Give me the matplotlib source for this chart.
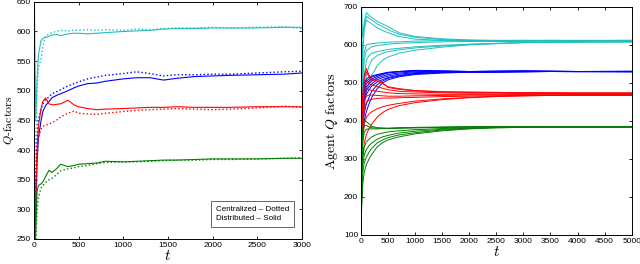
import matplotlib
matplotlib.use("Agg")
import matplotlib.pyplot as plt

plt.rcParams['mathtext.fontset'] = 'cm'
plt.rcParams['font.family'] = 'Liberation Sans'

# ---- left panel: centralized (dotted) vs distributed (solid) ----
t_left = [0, 5, 20, 35, 50, 80, 100, 130, 170, 200, 250, 300, 380, 450, 500, 600, 700,
          800, 1000, 1150, 1300, 1450, 1600, 1800, 2000, 2200, 2500, 2800, 3000]

cyan_solid = [200, 660, 450, 520, 560, 585, 588, 590, 592, 594, 595, 593, 596, 597, 597, 596, 597,
              598, 600, 601, 602, 604, 605, 605, 606, 606, 606, 607, 607]
cyan_dotted = [200, 240, 420, 500, 540, 552, 575, 592, 596, 598, 600, 602, 601, 602, 602, 603, 602,
               603, 602, 604, 603, 605, 606, 606, 607, 606, 607, 608, 605]
blue_solid = [200, 220, 300, 380, 420, 450, 465, 475, 482, 488, 492, 495, 500, 505, 508, 512, 513,
              516, 520, 522, 522, 518, 521, 524, 525, 526, 527, 528, 530]
blue_dotted = [200, 230, 340, 420, 450, 470, 478, 485, 490, 495, 498, 502, 508, 512, 515, 520, 523,
               526, 529, 532, 529, 525, 527, 527, 528, 528, 530, 532, 533]
red_solid = [200, 230, 330, 400, 440, 470, 482, 488, 478, 476, 477, 478, 484, 476, 473, 470, 468,
             469, 470, 471, 472, 472, 473, 472, 472, 472, 473, 473, 473]
red_dotted = [200, 220, 300, 380, 420, 435, 440, 442, 444, 446, 450, 456, 462, 466, 462, 461, 460,
              462, 465, 467, 468, 469, 470, 469, 468, 469, 471, 474, 472]
green_solid = [200, 210, 260, 330, 340, 343, 346, 355, 366, 362, 368, 376, 372, 374, 376, 377, 378,
               381, 380, 381, 382, 383, 383, 384, 385, 385, 385, 386, 386]
green_dotted = [200, 205, 240, 300, 320, 336, 340, 345, 350, 352, 358, 365, 368, 370, 372, 374, 377,
                379, 380, 380, 381, 382, 383, 383, 384, 384, 385, 386, 387]

# ---- right panel: agent Q factors ----
t_right = [0, 10, 30, 60, 100, 150, 200, 300, 400, 500, 700, 1000, 1500, 2000, 2500, 3000, 3500, 4000, 5000]

cyan_agents = [
    [100, 720, 620, 660, 685, 678, 672, 662, 655, 648, 632, 622, 616, 613, 612, 612, 611, 611, 612],
    [100, 300, 600, 650, 675, 670, 665, 655, 648, 640, 628, 620, 614, 612, 611, 612, 612, 612, 612],
    [100, 250, 560, 640, 665, 660, 655, 645, 638, 632, 622, 615, 612, 611, 611, 611, 612, 611, 611],
    [100, 230, 520, 580, 600, 602, 603, 605, 606, 607, 608, 610, 611, 611, 610, 611, 611, 611, 610],
    [100, 220, 500, 560, 585, 590, 595, 598, 600, 602, 604, 606, 608, 609, 609, 609, 610, 610, 610],
    [100, 200, 450, 520, 560, 572, 578, 582, 585, 588, 591, 595, 599, 602, 604, 606, 607, 608, 608],
    [100, 190, 420, 480, 520, 545, 560, 572, 578, 582, 587, 592, 597, 601, 604, 606, 607, 607, 608],
    [100, 180, 380, 440, 480, 500, 520, 545, 560, 568, 578, 586, 594, 600, 603, 606, 607, 608, 608],
]
blue_agents = [
    [100, 250, 460, 500, 510, 515, 518, 522, 525, 528, 530, 533, 532, 530, 531, 532, 531, 530, 530],
    [100, 240, 440, 490, 505, 510, 515, 520, 524, 527, 530, 532, 531, 530, 531, 531, 530, 530, 531],
    [100, 230, 420, 480, 498, 505, 510, 517, 522, 526, 529, 531, 530, 529, 530, 531, 531, 530, 530],
    [100, 220, 410, 470, 490, 498, 505, 513, 518, 522, 526, 529, 530, 529, 530, 530, 530, 530, 529],
    [100, 210, 400, 460, 480, 490, 498, 508, 514, 518, 523, 527, 529, 529, 529, 530, 530, 530, 530],
    [100, 200, 390, 450, 470, 482, 492, 502, 509, 514, 520, 525, 528, 528, 529, 530, 530, 529, 530],
    [100, 190, 370, 420, 445, 462, 478, 495, 505, 512, 518, 524, 527, 528, 529, 529, 530, 530, 530],
    [100, 180, 350, 400, 425, 445, 462, 485, 500, 508, 516, 522, 526, 528, 528, 529, 530, 530, 529],
]
red_agents = [
    [100, 260, 460, 520, 538, 520, 510, 505, 498, 490, 485, 480, 477, 476, 475, 474, 474, 473, 473],
    [100, 250, 450, 510, 530, 515, 505, 510, 500, 488, 483, 479, 476, 475, 475, 474, 474, 474, 474],
    [100, 240, 440, 490, 505, 498, 495, 490, 486, 482, 478, 476, 474, 473, 473, 472, 472, 472, 472],
    [100, 230, 420, 470, 485, 482, 480, 478, 476, 474, 472, 471, 470, 470, 470, 470, 471, 470, 470],
    [100, 220, 400, 450, 465, 468, 468, 467, 466, 465, 465, 466, 467, 468, 468, 469, 469, 469, 469],
    [100, 210, 380, 430, 450, 455, 457, 459, 460, 460, 461, 462, 464, 465, 466, 467, 467, 468, 468],
    [100, 200, 340, 390, 410, 418, 424, 432, 437, 441, 446, 452, 458, 462, 465, 466, 467, 468, 468],
    [100, 180, 300, 340, 365, 380, 392, 410, 422, 430, 440, 448, 456, 461, 464, 466, 467, 467, 467],
]
green_agents = [
    [100, 250, 380, 402, 398, 392, 386, 382, 381, 380, 381, 382, 383, 384, 385, 385, 385, 384, 384],
    [100, 240, 370, 388, 388, 384, 382, 381, 381, 381, 382, 383, 384, 385, 385, 385, 384, 384, 385],
    [100, 220, 340, 370, 378, 379, 379, 379, 380, 380, 381, 382, 383, 384, 385, 385, 385, 385, 384],
    [100, 200, 300, 330, 345, 352, 358, 365, 368, 371, 374, 377, 380, 382, 383, 384, 384, 385, 385],
    [100, 190, 280, 310, 325, 335, 342, 352, 358, 362, 368, 373, 378, 381, 383, 384, 384, 384, 385],
    [100, 180, 260, 290, 305, 318, 328, 342, 350, 356, 363, 369, 376, 380, 382, 383, 384, 384, 384],
    [100, 160, 230, 265, 285, 300, 312, 332, 343, 350, 358, 366, 374, 379, 382, 383, 384, 384, 384],
]

c_cyan = '#20bfbf'
c_blue = '#0000ff'
c_red = '#ff0000'
c_green = '#008000'

fig = plt.figure(figsize=(6.4, 2.64), dpi=100)
ax1 = fig.add_axes([0.053, 0.095, 0.419, 0.898])
ax2 = fig.add_axes([0.564, 0.11, 0.423, 0.864])

lw = 0.8
for solid, dotted, col in [(cyan_solid, cyan_dotted, c_cyan), (blue_solid, blue_dotted, c_blue),
                           (red_solid, red_dotted, c_red), (green_solid, green_dotted, c_green)]:
    ax1.plot(t_left, solid, color=col, lw=lw)
    ax1.plot(t_left, dotted, color=col, lw=1.0, linestyle=':')

ax1.set_xlim(0, 3000)
ax1.set_ylim(250, 650)
ax1.set_xticks(range(0, 3001, 500))
ax1.set_yticks(range(250, 651, 50))
ax1.set_ylabel(r'$Q\mathrm{\text{-}factors}$', fontsize=8.5)
ax1.yaxis.set_label_coords(-0.068, 0.5)
ax1.set_xlabel(r'$t$', fontsize=11, labelpad=0)
ax1.text(0.68, 0.105, 'Centralized \u2013 Dotted\nDistributed \u2013 Solid', transform=ax1.transAxes,
         ha='left', va='center', fontsize=5.8, linespacing=1.45,
         bbox=dict(boxstyle='square,pad=0.6', fc='white', ec='#666666', lw=0.7))

for agents, col in [(cyan_agents, c_cyan), (blue_agents, c_blue), (red_agents, c_red), (green_agents, c_green)]:
    for a in agents:
        ax2.plot(t_right, a, color=col, lw=0.7)

ax2.set_xlim(0, 5000)
ax2.set_ylim(100, 700)
ax2.set_xticks(range(0, 5001, 500))
ax2.set_yticks(range(100, 701, 100))
ax2.set_ylabel(r'$\mathrm{Agent}\ Q\ \mathrm{factors}$', fontsize=10)
ax2.yaxis.set_label_coords(-0.078, 0.5)
ax2.set_xlabel(r'$t$', fontsize=11, labelpad=0)

for ax in (ax1, ax2):
    ax.tick_params(direction='in', top=True, right=True, labelsize=6, length=2.5, width=0.6, pad=2)
    for s in ax.spines.values():
        s.set_linewidth(0.7)

fig.savefig('out.png', dpi=100)
